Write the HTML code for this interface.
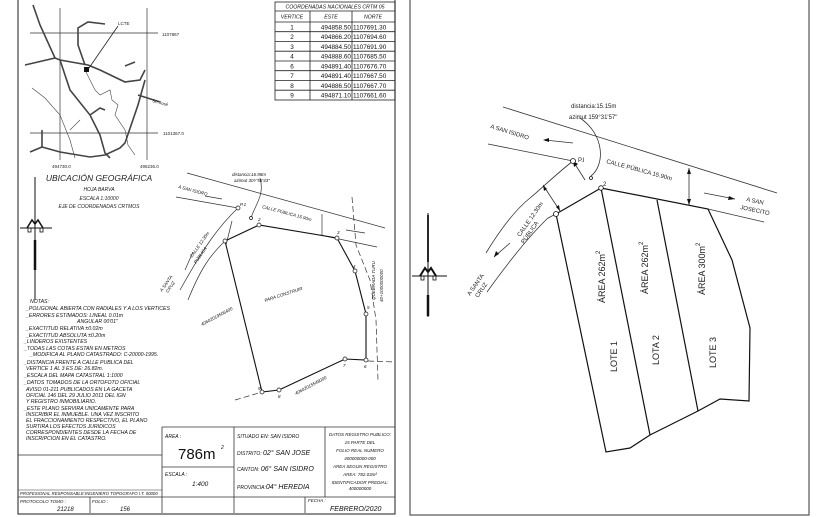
<!DOCTYPE html>
<html><head><meta charset="utf-8"><style>
html,body{margin:0;padding:0;background:#fff;}
svg{display:block;font-family:"Liberation Sans",sans-serif;}
.i{font-style:italic;}
</style></head><body>
<svg width="827" height="517" viewBox="0 0 827 517" xmlns="http://www.w3.org/2000/svg">
<rect width="827" height="517" fill="#fff"/>
<rect x="18" y="-1" width="377" height="515" fill="none" stroke="#444" stroke-width="1.2"/>
<rect x="410" y="-1" width="399" height="516" fill="none" stroke="#555" stroke-width="1.2"/>

<!-- coord table -->
<g stroke="#222" stroke-width="0.8" fill="none">
<rect x="275" y="2" width="120" height="98"/>
<line x1="275" y1="11" x2="395" y2="11"/>
<line x1="275" y1="22" x2="395" y2="22"/>
<line x1="310" y1="11" x2="310" y2="100"/>
<line x1="352" y1="11" x2="352" y2="100"/>
<line x1="275" y1="31.7" x2="395" y2="31.7"/><line x1="275" y1="41.5" x2="395" y2="41.5"/>
<line x1="275" y1="51.2" x2="395" y2="51.2"/><line x1="275" y1="61" x2="395" y2="61"/>
<line x1="275" y1="70.7" x2="395" y2="70.7"/><line x1="275" y1="80.5" x2="395" y2="80.5"/>
<line x1="275" y1="90.2" x2="395" y2="90.2"/>
</g>
<g font-size="6.4" fill="#111">
<text x="335" y="8.5" text-anchor="middle" class="i" font-size="5.2">COORDENADAS NACIONALES CRTM 05</text>
<text x="292" y="18.5" text-anchor="middle" class="i" font-size="5.2">VERTICE</text>
<text x="331" y="18.5" text-anchor="middle" class="i" font-size="5.2">ESTE</text>
<text x="373" y="18.5" text-anchor="middle" class="i" font-size="5.2">NORTE</text>
<g text-anchor="middle"><text x="292" y="29.5">1</text><text x="292" y="39.2">2</text><text x="292" y="49">3</text><text x="292" y="58.7">4</text><text x="292" y="68.5">6</text><text x="292" y="78.2">7</text><text x="292" y="88">8</text><text x="292" y="97.7">9</text></g>
<g text-anchor="end"><text x="351" y="29.5">494858.50</text><text x="351" y="39.2">494866.20</text><text x="351" y="49">494884.50</text><text x="351" y="58.7">494888.60</text><text x="351" y="68.5">494891.40</text><text x="351" y="78.2">494891.40</text><text x="351" y="88">494886.50</text><text x="351" y="97.7">494871.10</text></g>
<g><text x="353" y="29.5">1107691.30</text><text x="353" y="39.2">1107694.60</text><text x="353" y="49">1107691.90</text><text x="353" y="58.7">1107685.50</text><text x="353" y="68.5">1107676.70</text><text x="353" y="78.2">1107667.50</text><text x="353" y="88">1107667.70</text><text x="353" y="97.7">1107661.60</text></g>
</g>

<!-- location map -->
<g stroke="#333" stroke-width="0.7" fill="none">
<line x1="60" y1="8" x2="60" y2="160"/><line x1="147" y1="8" x2="147" y2="160"/>
<line x1="30" y1="33" x2="158" y2="33"/><line x1="30" y1="133" x2="158" y2="133"/>
</g>
<g stroke="#444" stroke-width="1.6" fill="none">
<path d="M33 5 L40 25 L55 58 L60 60 L88 65 L100 70 L125 82 L140 80 L145 70"/>
<path d="M25 65 L55 58"/>
<path d="M60 60 L70 90 L90 115 L100 135 L105 153 L110 158"/>
<path d="M42 147 L60 152 L90 157 L105 155 L120 148 L125 143 L138 105 L145 80"/>
<path d="M85 65 L78 45 L78 28 L88 22 L105 24"/>
<path d="M138 95 L160 102"/>
<path d="M90 115 L100 108 L105 110"/>
<path d="M42 147 L30 152"/><path d="M42 147 L42 130"/>
<path d="M125 66 L135 62"/>
</g>
<g stroke="#444" stroke-width="0.6" fill="none">
<path d="M32 88 L45 98 L60 115 L70 140 L75 158"/>
<path d="M85 70 L95 90 L100 95 L110 90 L112 100 L118 105 L115 115 L125 130 L128 145 L135 155"/>
<path d="M70 130 L80 120"/>
</g>
<rect x="84" y="67" width="5" height="5" fill="#111"/>
<line x1="118" y1="26" x2="89" y2="68" stroke="#222" stroke-width="0.8"/>
<g font-size="4.5" fill="#222">
<text x="118" y="25">LCTE</text>
<text x="162" y="36">1107867</text>
<text x="163" y="135">1101367.0</text>
<text x="52" y="168">494730.0</text>
<text x="140" y="168">495236.0</text>
<text x="152" y="102" transform="rotate(15 152 102)">Sn José</text>
</g>
<g fill="#222" class="i" text-anchor="middle">
<text x="99" y="181" font-size="8.5">UBICACIÓN GEOGRÁFICA</text>
<text x="99" y="191" font-size="5">HOJA BARVA</text>
<text x="99" y="200" font-size="5">ESCALA 1:10000</text>
<text x="99" y="208" font-size="5">EJE DE COORDENADAS CRTMOS</text>
</g>

<g stroke="#111" fill="none">
<line x1="35" y1="177" x2="35" y2="300" stroke-width="1"/>
<line x1="35" y1="240" x2="35" y2="270" stroke-width="2.5"/>
<line x1="20" y1="228" x2="52" y2="228" stroke-width="1"/>
<path d="M27 228 L32 220 L35 224 L38 220 L43 228" stroke-width="1.5"/>
<rect x="28" y="228" width="3" height="4" stroke-width="0.8"/><rect x="40" y="228" width="3" height="4" stroke-width="0.8"/>
</g>

<g font-size="5.2" fill="#111" class="i">
<text x="30" y="303">NOTAS:</text>
<text x="26" y="310">_POLIGONAL ABIERTA CON RADIALES Y A LOS VERTICES</text>
<text x="26" y="317">_ERRORES ESTIMADOS: LINEAL 0.01m</text>
<text x="77" y="323">ANGULAR 00'01"</text>
<text x="26" y="330">_EXACTITUD RELATIVA ±0.02m</text>
<text x="26" y="337">_EXACTITUD ABSOLUTA ±0.20m</text>
<text x="24" y="343">_LINDEROS EXISTENTES</text>
<text x="24" y="350">_TODAS LAS COTAS ESTAN EN METROS</text>
<text x="30" y="356">_MODIFICA AL PLANO CATASTRADO: C-20000-1995.</text>
<text x="24" y="364">_DISTANCIA FRENTE A CALLE PUBLICA DEL</text>
<text x="26" y="370">VERTICE 1 AL 3 ES DE: 26.82m.</text>
<text x="24" y="377">_ESCALA DEL MAPA CATASTRAL 1:1000</text>
<text x="24" y="384">_DATOS TOMADOS DE LA ORTOFOTO OFICIAL</text>
<text x="26" y="391">AVISO 01-211 PUBLICADOS EN LA GACETA</text>
<text x="26" y="397">OFICIAL 146 DEL 29 JULIO 2011 DEL IGN</text>
<text x="26" y="403">Y REGISTRO INMOBILIARIO.</text>
<text x="24" y="410">_ESTE PLANO SERVIRA UNICAMENTE PARA</text>
<text x="26" y="416">INSCRIBIR EL INMUEBLE. UNA VEZ INSCRITO</text>
<text x="26" y="422">EL FRACCIONAMIENTO RESPECTIVO, EL PLANO</text>
<text x="26" y="428">SURTIRA LOS EFECTOS JURIDICOS</text>
<text x="26" y="434">CORRESPONDIENTES DESDE LA FECHA DE</text>
<text x="26" y="440">INSCRIPCION EN EL CATASTRO.</text>
</g>

<g stroke="#333" stroke-width="0.7" fill="none">
<line x1="187" y1="173" x2="385" y2="228"/>
<line x1="176" y1="197" x2="238" y2="208"/>
<line x1="320" y1="235" x2="377" y2="247"/>
<path d="M238 208 C220 225 205 245 180 290"/>
<path d="M225 241 C210 255 200 270 188 300"/>
<line x1="322" y1="214" x2="322" y2="236"/>
<line x1="205" y1="196" x2="222" y2="199"/>
<line x1="346" y1="230" x2="365" y2="233"/>
<line x1="232" y1="221" x2="226" y2="245" />
<path d="M260 178 C265 195 255 205 251 218"/>
<line x1="193" y1="252" x2="185" y2="270"/>
</g>
<g stroke="#333" stroke-width="0.7" fill="none" stroke-dasharray="6 3">
<path d="M352 197 L356 245 L370 280 L376 320 L378 380"/>
<line x1="368" y1="361" x2="395" y2="362"/>
<line x1="235" y1="400" x2="262" y2="392"/>
</g>
<g stroke="#111" stroke-width="1.1" fill="none">
<polyline points="225,241 259,225 337,238 355,271 366,314 366,360 345,359 279,390 262,392 225,241"/>
</g>
<g fill="#fff" stroke="#111" stroke-width="0.7">
<circle cx="238" cy="208" r="2"/><circle cx="259" cy="225" r="2"/><circle cx="225" cy="241" r="2"/><circle cx="337" cy="238" r="2"/><circle cx="355" cy="271" r="2"/><circle cx="366" cy="314" r="2"/><circle cx="366" cy="360" r="2"/><circle cx="345" cy="359" r="2"/><circle cx="279" cy="390" r="2"/><circle cx="262" cy="392" r="2"/><circle cx="251" cy="218" r="1.5"/>
</g>
<g font-size="4.5" fill="#111" class="i">
<text x="232" y="176">distancia:16.98m</text>
<text x="234" y="182">azimut 30Y'58'43"</text>
<text x="178" y="188" transform="rotate(15 178 188)">A SAN ISIDRO</text>
<text x="262" y="208" transform="rotate(15 262 208)">CALLE PÚBLICA 15.90m</text>
<text x="240" y="206">P.1</text><text x="258" y="221">2</text><text x="337" y="234">3</text>
<text x="353" y="268">4</text><text x="367" y="309">5</text><text x="364" y="368">6</text><text x="343" y="367">7</text><text x="278" y="398">8</text><text x="258" y="390">9</text>
<text x="192" y="258" transform="rotate(-55 192 258)">CALLE 12.30m</text>
<text x="196" y="264" transform="rotate(-55 196 264)">PÚBLICA</text>
<text x="162" y="292" transform="rotate(-55 162 292)">A SANTA</text>
<text x="168" y="293" transform="rotate(-55 168 293)">CRUZ</text>
<text x="265" y="302" transform="rotate(-18 265 302)">PARA CONSTRUIR</text>
<text x="202" y="326" transform="rotate(-28 202 326)">40602019506400</text>
<text x="296" y="395" transform="rotate(-28 296 395)">40602015548000</text>
<text x="375" y="300" transform="rotate(-90 375 300)">QUEBRADA TURU</text>
<text x="383" y="302" transform="rotate(-90 383 302)">40+1000000000</text>
</g>

<g stroke="#333" stroke-width="0.8" fill="none">
<line x1="162" y1="427" x2="395" y2="427"/>
<line x1="162" y1="427" x2="162" y2="513"/>
<line x1="234" y1="427" x2="234" y2="513"/>
<line x1="325" y1="427" x2="325" y2="497"/>
<line x1="162" y1="467" x2="234" y2="467"/>
<line x1="18" y1="455" x2="162" y2="455"/>
<line x1="18" y1="497" x2="395" y2="497"/>
<line x1="18" y1="490" x2="162" y2="490" stroke-width="0.5"/>
<line x1="90" y1="497" x2="90" y2="513"/>
<line x1="305" y1="497" x2="305" y2="513"/>
</g>
<g fill="#111" class="i">
<text x="165" y="438" font-size="5">AREA :</text>
<text x="178" y="459" font-size="15" font-style="normal">786m</text><text x="221" y="449" font-size="5">2</text>
<text x="165" y="476" font-size="5">ESCALA :</text>
<text x="192" y="486" font-size="6.5">1:400</text>
<text x="237" y="438" font-size="5">SITUADO EN: SAN ISIDRO</text>
<text x="237" y="455" font-size="5">DISTRITO: <tspan font-size="7">02° SAN JOSE</tspan></text>
<text x="237" y="471" font-size="5">CANTON: <tspan font-size="7">06° SAN ISIDRO</tspan></text>
<text x="237" y="489" font-size="5">PROVINCIA:<tspan font-size="7">04° HEREDIA</tspan></text>
<g font-size="4.5" text-anchor="middle">
<text x="360" y="436">DATOS REGISTRO PUBLICO:</text>
<text x="360" y="444">15 PARTE DEL</text>
<text x="360" y="452">FOLIO REAL NUMERO</text>
<text x="360" y="460">400000000-000</text>
<text x="360" y="468">AREA SEGUN REGISTRO</text>
<text x="360" y="476">AREA: 782.03m²</text>
<text x="360" y="484">IDENTIFICADOR PREDIAL:</text>
<text x="360" y="490">400000000</text>
</g>
<text x="20" y="495" font-size="4.3">PROFESIONAL RESPONSABLE:INGENIERO TOPOGRAFO I.T. 00000</text>
<text x="20" y="503" font-size="4.5">PROTOCOLO TOMO :</text>
<text x="57" y="511" font-size="6">21218</text>
<text x="92" y="503" font-size="4.5">FOLIO :</text>
<text x="120" y="511" font-size="6">156</text>
<text x="308" y="502" font-size="4.5">FECHA :</text>
<text x="330" y="511" font-size="7">FEBRERO/2020</text>
</g>

<g stroke="#333" stroke-width="0.8" fill="none">
<line x1="503" y1="107" x2="777" y2="193"/>
<line x1="488" y1="144" x2="573" y2="161"/>
<line x1="708" y1="209" x2="764" y2="222"/>
<path d="M573 161 C555 175 540 190 530 198 C515 210 500 230 486 253"/>
<path d="M556 214 L548 218 C530 235 510 260 487 292"/>
<line x1="510" y1="243" x2="494" y2="257"/>
<path d="M580 118 C605 135 605 165 591 176"/>
<line x1="585" y1="180" x2="573" y2="161"/>
<line x1="689" y1="168" x2="689" y2="205"/>
<line x1="704" y1="193" x2="735" y2="199"/>
<line x1="543" y1="185" x2="560" y2="211"/>
<line x1="545" y1="140" x2="573" y2="143"/>
</g>
<g fill="#111">
<path d="M689 168 l-2 6 h4z"/><path d="M689 205 l-2 -6 h4z"/>
<path d="M735 199 l-6 -3 l-1 4z"/>
<path d="M543 140 l6 -2 l0 4z"/>
<path d="M494 257 l2 -6 l3 3z"/>
<path d="M573 161 l1 6 l4 -3z"/>
<path d="M543 185 l1 6 l3 -2z"/><path d="M560 211 l-1 -6 l-3 2z"/>
</g>
<g stroke="#111" stroke-width="1.2" fill="none">
<polyline points="556,214 601,188 708,209 732,260 750,328 749,401 720,399 698,411 650,435 630,448 606,452 556,214"/>
<line x1="601" y1="188" x2="650" y2="435"/>
<line x1="657" y1="200" x2="698" y2="411"/>
</g>
<g fill="#fff" stroke="#111" stroke-width="0.8">
<circle cx="573" cy="161" r="2.5"/><circle cx="601" cy="188" r="2.3"/><circle cx="556" cy="214" r="2.5"/><circle cx="591" cy="178" r="1.5"/>
</g>
<g font-size="6" fill="#222">
<text x="571" y="108">distancia:15.15m</text>
<text x="569" y="119">azimut  159°31'57"</text>
<text x="490" y="128" transform="rotate(17 490 128)">A SAN ISIDRO</text>
<text x="578" y="162">P.I</text>
<text x="603" y="186">2</text>
<text x="606" y="163" transform="rotate(15 606 163)">CALLE PÚBLICA 15.90m</text>
<text x="746" y="201" transform="rotate(12 746 201)">A SAN</text>
<text x="740" y="209" transform="rotate(12 740 209)">JOSECITO</text>
<text x="520" y="237" transform="rotate(-55 520 237)">CALLE 12.30m</text>
<text x="524" y="244" transform="rotate(-55 524 244)">PÚBLICA</text>
<text x="470" y="296" transform="rotate(-55 470 296)">A SANTA</text>
<text x="478" y="298" transform="rotate(-55 478 298)">CRUZ</text>
</g>
<g font-size="9" fill="#222">
<text transform="translate(605 303) rotate(-90)">ÁREA  262m<tspan font-size="6" dy="-5">2</tspan></text>
<text transform="translate(617 372) rotate(-90)">LOTE   1</text>
<text transform="translate(648 294) rotate(-90)">ÁREA  262m<tspan font-size="6" dy="-5">2</tspan></text>
<text transform="translate(659 365) rotate(-90)">LOTA   2</text>
<text transform="translate(705 295) rotate(-90)">ÁREA  300m<tspan font-size="6" dy="-5">2</tspan></text>
<text transform="translate(716 368) rotate(-90)">LOTE   3</text>
</g>
<g stroke="#111" fill="none">
<line x1="428" y1="213" x2="428" y2="317" stroke-width="1"/>
<line x1="428" y1="295" x2="428" y2="316" stroke-width="2.5"/>
<line x1="428" y1="215" x2="428" y2="262" stroke-width="1.8"/>
<line x1="412" y1="276" x2="447" y2="276" stroke-width="1"/>
<path d="M420 276 L425 268 L428 272 L431 268 L436 276" stroke-width="2"/>
<rect x="421" y="276" width="3" height="4" stroke-width="0.8"/><rect x="433" y="276" width="3" height="4" stroke-width="0.8"/>
</g>
</svg>
</body></html>
